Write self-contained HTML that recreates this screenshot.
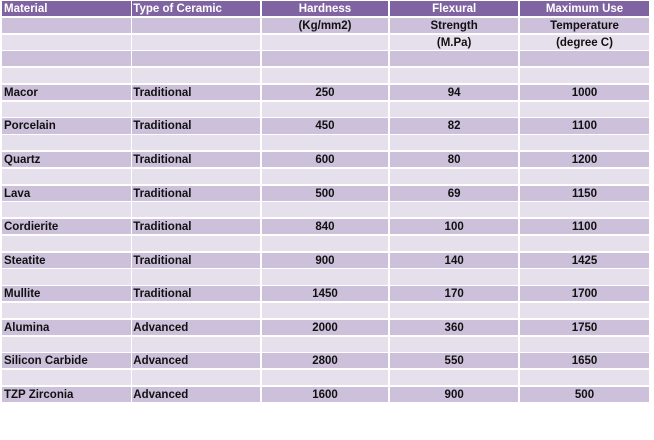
<!DOCTYPE html>
<html><head><meta charset="utf-8">
<style>
html,body{margin:0;padding:0;background:#fff;}
body{width:654px;height:440px;position:relative;overflow:hidden;font-family:"Liberation Sans",Arial,sans-serif;font-weight:bold;font-size:11.5px;color:#111;}
.r{position:absolute;left:0;width:654px;height:15.1px;}
.r div{position:absolute;top:0;height:15.1px;line-height:15.1px;padding-top:1px;box-sizing:border-box;white-space:nowrap;overflow:hidden;}
.c1{left:2px;width:128.7px;padding-left:2px;}
.c2{left:132.3px;width:127.7px;padding-left:1px;}
.c3{left:261.7px;width:126.6px;text-align:center;}
.c4{left:390px;width:128.3px;text-align:center;}
.c5{left:520px;width:129px;text-align:center;}
.h div{background:#8064A2;color:#fff;}
.d div{background:#CCC0DA;}
.l div{background:#E5E0EC;}
</style></head><body>
<div class="r h" style="top:1px"><div class="c1">Material</div><div class="c2">Type of Ceramic</div><div class="c3">Hardness</div><div class="c4">Flexural</div><div class="c5">Maximum Use</div></div>
<div class="r d" style="top:17.78px"><div class="c1"></div><div class="c2"></div><div class="c3">(Kg/mm2)</div><div class="c4">Strength</div><div class="c5">Temperature</div></div>
<div class="r l" style="top:34.56px"><div class="c1"></div><div class="c2"></div><div class="c3"></div><div class="c4">(M.Pa)</div><div class="c5">(degree C)</div></div>
<div class="r d" style="top:51.34px"><div class="c1"></div><div class="c2"></div><div class="c3"></div><div class="c4"></div><div class="c5"></div></div>
<div class="r l" style="top:68.12px"><div class="c1"></div><div class="c2"></div><div class="c3"></div><div class="c4"></div><div class="c5"></div></div>
<div class="r d" style="top:84.9px"><div class="c1">Macor</div><div class="c2">Traditional</div><div class="c3">250</div><div class="c4">94</div><div class="c5">1000</div></div>
<div class="r l" style="top:101.68px"><div class="c1"></div><div class="c2"></div><div class="c3"></div><div class="c4"></div><div class="c5"></div></div>
<div class="r d" style="top:118.46px"><div class="c1">Porcelain</div><div class="c2">Traditional</div><div class="c3">450</div><div class="c4">82</div><div class="c5">1100</div></div>
<div class="r l" style="top:135.24px"><div class="c1"></div><div class="c2"></div><div class="c3"></div><div class="c4"></div><div class="c5"></div></div>
<div class="r d" style="top:152.02px"><div class="c1">Quartz</div><div class="c2">Traditional</div><div class="c3">600</div><div class="c4">80</div><div class="c5">1200</div></div>
<div class="r l" style="top:168.8px"><div class="c1"></div><div class="c2"></div><div class="c3"></div><div class="c4"></div><div class="c5"></div></div>
<div class="r d" style="top:185.58px"><div class="c1">Lava</div><div class="c2">Traditional</div><div class="c3">500</div><div class="c4">69</div><div class="c5">1150</div></div>
<div class="r l" style="top:202.36px"><div class="c1"></div><div class="c2"></div><div class="c3"></div><div class="c4"></div><div class="c5"></div></div>
<div class="r d" style="top:219.14px"><div class="c1">Cordierite</div><div class="c2">Traditional</div><div class="c3">840</div><div class="c4">100</div><div class="c5">1100</div></div>
<div class="r l" style="top:235.92px"><div class="c1"></div><div class="c2"></div><div class="c3"></div><div class="c4"></div><div class="c5"></div></div>
<div class="r d" style="top:252.7px"><div class="c1">Steatite</div><div class="c2">Traditional</div><div class="c3">900</div><div class="c4">140</div><div class="c5">1425</div></div>
<div class="r l" style="top:269.48px"><div class="c1"></div><div class="c2"></div><div class="c3"></div><div class="c4"></div><div class="c5"></div></div>
<div class="r d" style="top:286.26px"><div class="c1">Mullite</div><div class="c2">Traditional</div><div class="c3">1450</div><div class="c4">170</div><div class="c5">1700</div></div>
<div class="r l" style="top:303.04px"><div class="c1"></div><div class="c2"></div><div class="c3"></div><div class="c4"></div><div class="c5"></div></div>
<div class="r d" style="top:319.82px"><div class="c1">Alumina</div><div class="c2">Advanced</div><div class="c3">2000</div><div class="c4">360</div><div class="c5">1750</div></div>
<div class="r l" style="top:336.6px"><div class="c1"></div><div class="c2"></div><div class="c3"></div><div class="c4"></div><div class="c5"></div></div>
<div class="r d" style="top:353.38px"><div class="c1">Silicon Carbide</div><div class="c2">Advanced</div><div class="c3">2800</div><div class="c4">550</div><div class="c5">1650</div></div>
<div class="r l" style="top:370.16px"><div class="c1"></div><div class="c2"></div><div class="c3"></div><div class="c4"></div><div class="c5"></div></div>
<div class="r d" style="top:386.94px"><div class="c1">TZP Zirconia</div><div class="c2">Advanced</div><div class="c3">1600</div><div class="c4">900</div><div class="c5">500</div></div>
</body></html>
